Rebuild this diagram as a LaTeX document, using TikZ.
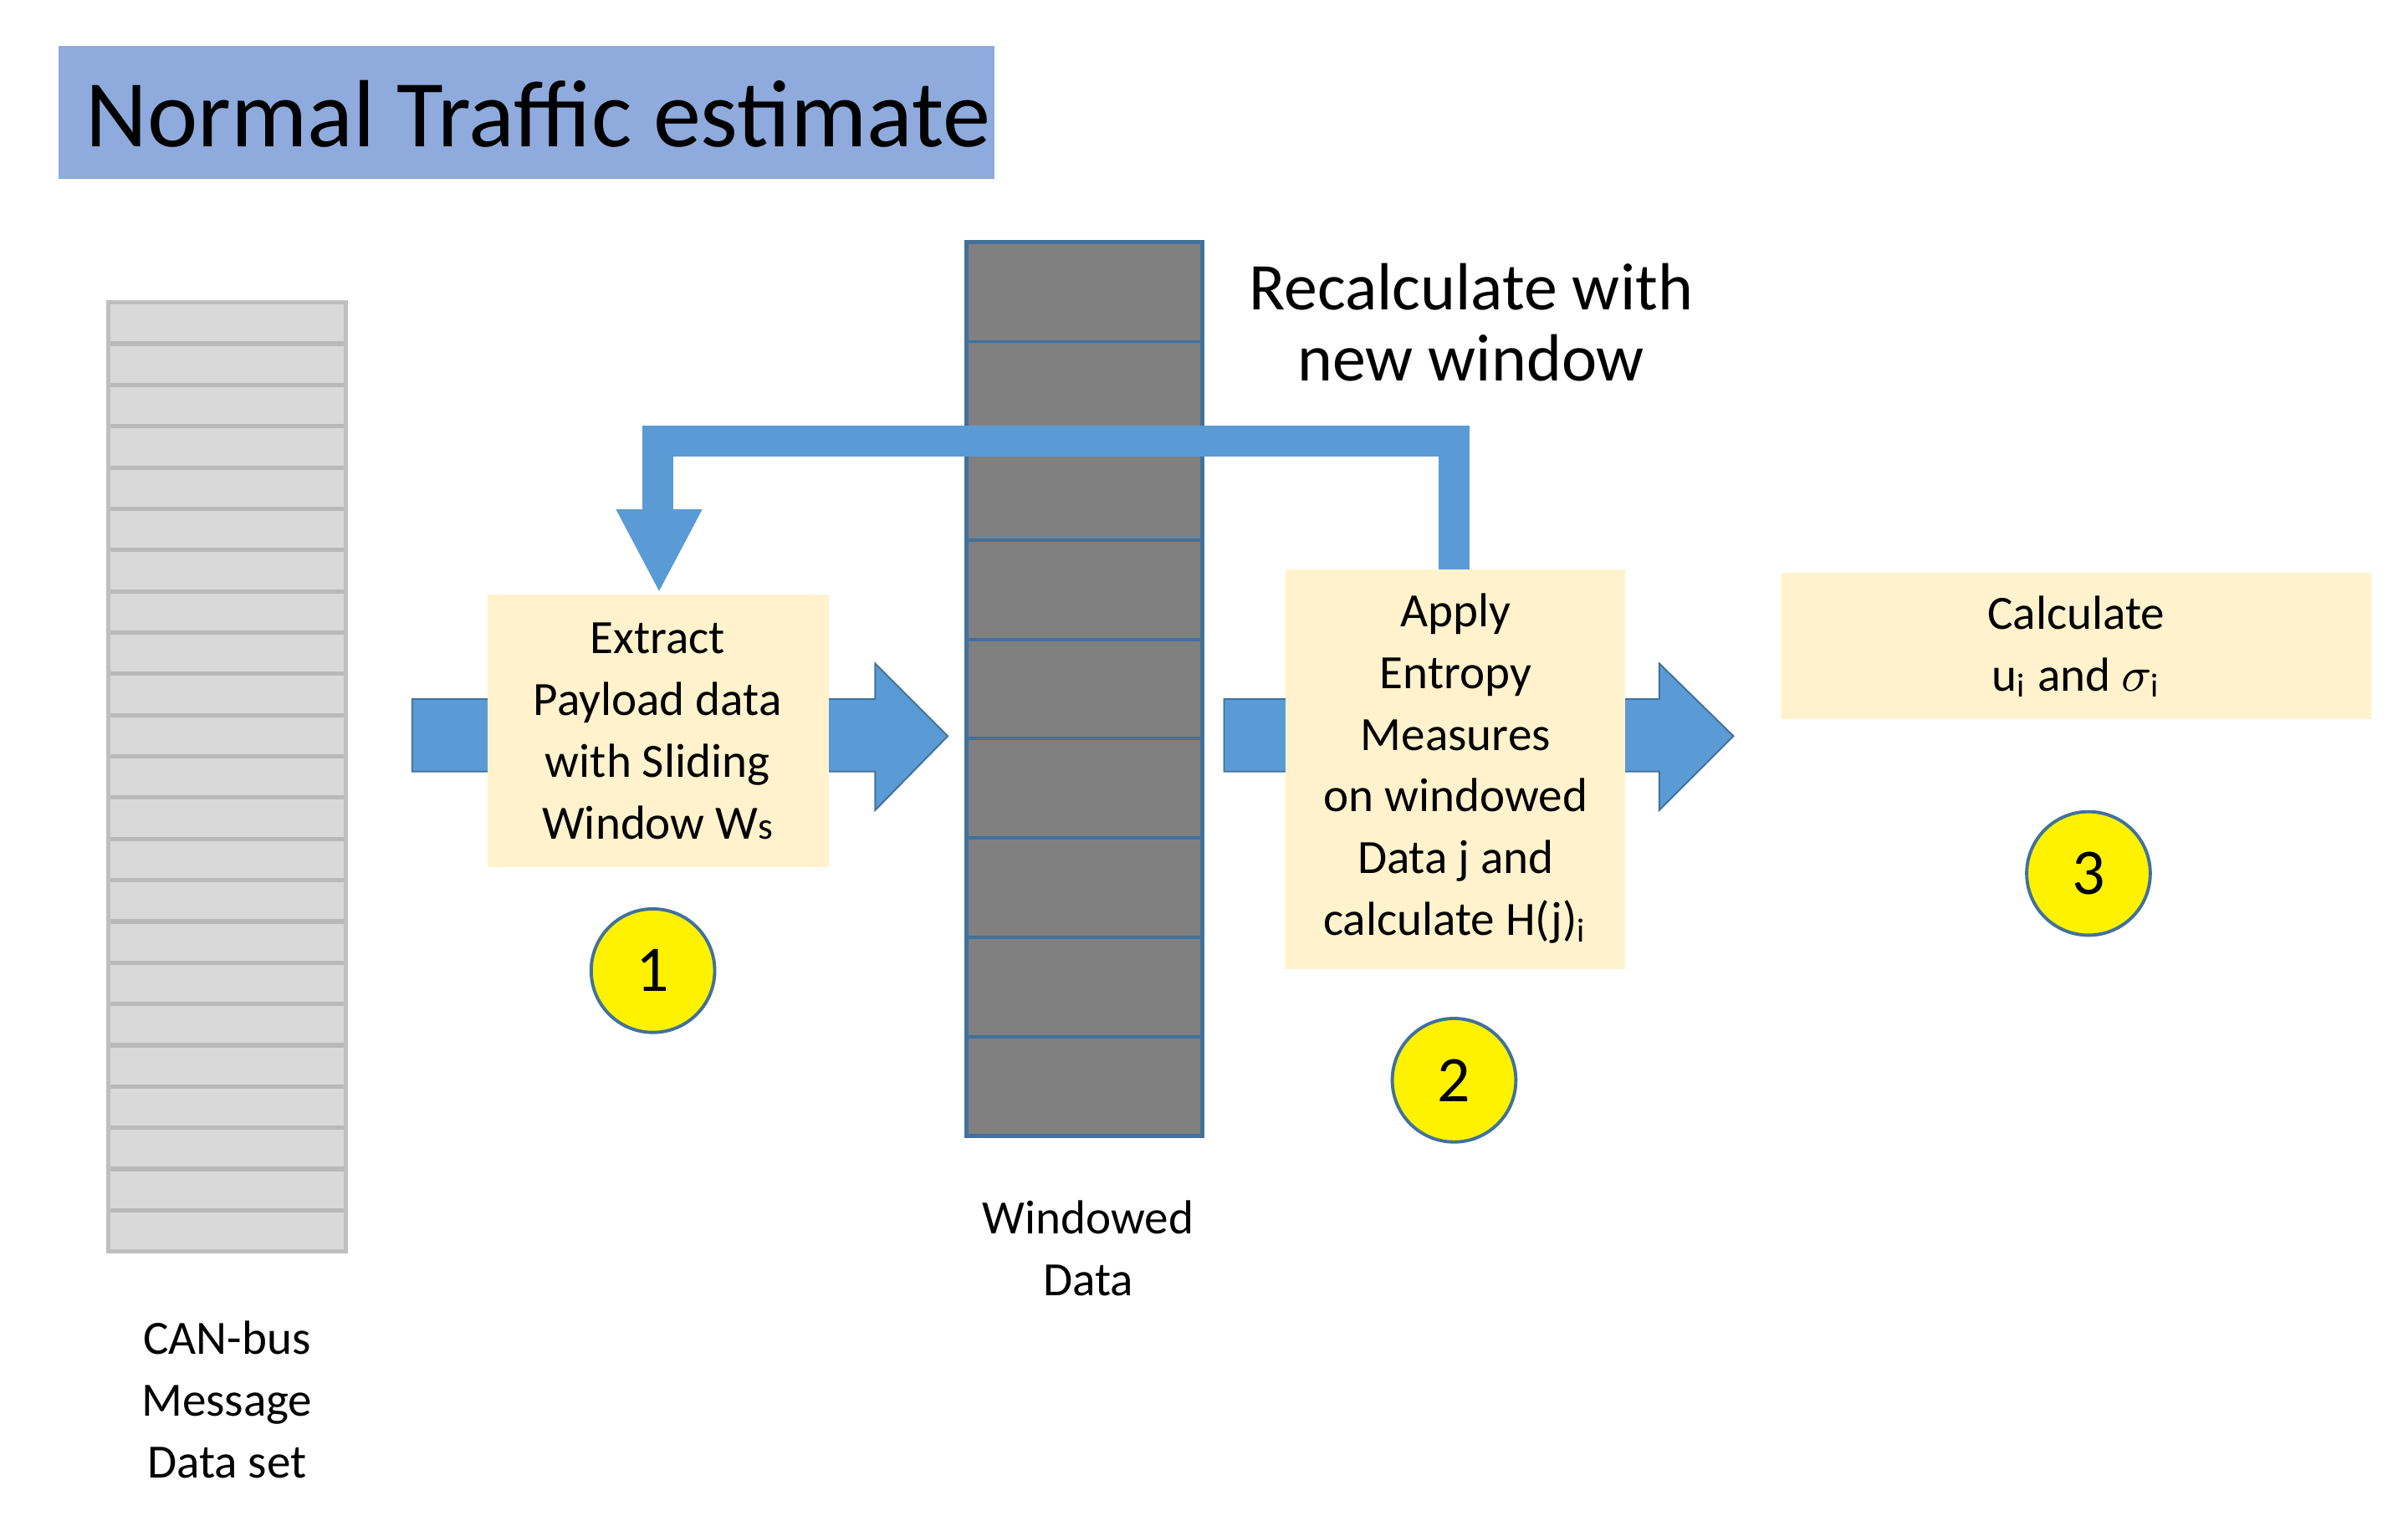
\documentclass[tikz,border=0pt]{standalone}
\usepackage{fontspec}
\setmainfont{Carlito}
\begin{document}
\begin{tikzpicture}[x=0.01cm,y=-0.01cm,
  body/.style={font=\fontsize{8.8pt}{11.4pt}\selectfont,align=center,inner sep=0},
  ybox/.style={fill=boxy,draw=none},
  barrow/.style={fill=bblue,draw=bborder,line width=0.3pt},
  num/.style={circle,fill=yellow,draw=bborder,line width=0.6pt,minimum size=0.8cm,inner sep=0,font=\fontsize{12pt}{14pt}\selectfont}]
\definecolor{bblue}{HTML}{5B9BD5}
\definecolor{bborder}{HTML}{41719C}
\definecolor{boxy}{HTML}{FFF2CC}
\definecolor{ttl}{HTML}{8FAADC}
\useasboundingbox (0,0) rectangle (1560,982);
\fill[white] (0,0) rectangle (1560,982);
% title
\fill[ttl] (38,30) rectangle (644,116);
\node[anchor=west,inner sep=0,font=\fontsize{17.6pt}{20pt}\selectfont] (title) at (55,74) {Normal Traffic estimate};
% left stack
\fill[gray!30] (70,196) rectangle (224,811);
\foreach \i in {1,...,22} \draw[gray!55,line width=0.8pt] (70,{196+\i*615/23}) -- (224,{196+\i*615/23});
\draw[gray!50,line width=0.8pt] (70,196) rectangle (224,811);
% windowed column
\fill[gray] (626,157) rectangle (779,736);
\foreach \i in {1,...,8} \draw[bborder,line width=0.6pt] (626,{157+\i*579/9}) -- (779,{157+\i*579/9});
\draw[bborder,line width=0.8pt] (626,157) rectangle (779,736);
% arrows
\draw[barrow] (267,453) -- (567,453) -- (567,430) -- (614,477) -- (567,525) -- (567,500) -- (267,500) -- cycle;
\draw[barrow] (793,453) -- (1075,453) -- (1075,430) -- (1123,477) -- (1075,525) -- (1075,500) -- (793,500) -- cycle;
% boxes
\fill[ybox] (316,385) rectangle (537,562);
\node[body] (b1) at (426,474) {Extract\\Payload data\\with Sliding\\Window W{\fontsize{7pt}{8pt}\selectfont s}};
\fill[ybox] (833,369) rectangle (1053,628);
\node[body] (b2) at (943,498) {Apply\\Entropy\\Measures\\on windowed\\Data j and\\calculate H(j)$_{\mathrm{i}}$};
\fill[ybox] (1154,371) rectangle (1536,466);
\node[body] (b3) at (1345,419) {Calculate\\u$_{\mathrm{i}}$ and $\sigma_{\mathrm{i}}$};
% feedback
\draw[bblue,line width=0.2cm] (942,369) -- (942,286) -- (426,286) -- (426,332);
\fill[bblue] (399,330) -- (455,330) -- (427,383) -- cycle;
% circles
\node[num] (n1) at (423,629) {1};
\node[num] (n2) at (942,700) {2};
\node[num] (n3) at (1353,566) {3};
% labels
\node[body] (wd) at (705,809) {Windowed\\Data};
\node[body] (can) at (147,907) {CAN-bus\\Message\\Data set};
\node[align=center,inner sep=0,font=\fontsize{12.3pt}{13.1pt}\selectfont] (rc) at (953,209) {Recalculate with\\new window};
\end{tikzpicture}
\end{document}
